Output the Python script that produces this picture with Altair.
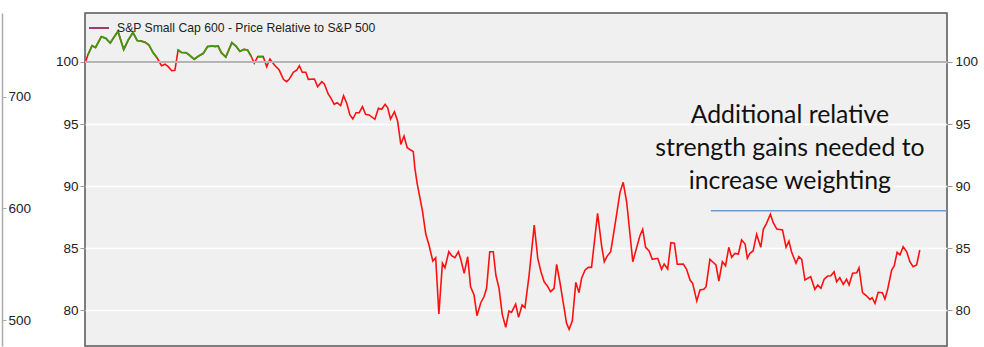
import altair as alt
import pandas as pd

# Week number (x) and S&P 600 / S&P 500 relative index (y)
weeks = [0, 0.9, 2.2, 3.3, 5.1, 6.5, 7.9, 9.1, 10.3, 12.1, 13.5, 15.0, 16.3, 17.6, 18.8, 20.0,
         21.2, 22.6, 23.9, 25.0, 26.0, 27.1, 28.1, 29.1, 30.1, 31.6, 32.6, 34.1, 35.4, 37.0, 38.3,
         39.8, 40.6, 41.6, 42.6, 44.0, 45.9, 47.2, 48.4, 49.7, 50.8, 51.9, 52.9, 54.0, 55.7, 56.8,
         57.8, 59.2, 60.7, 62.0, 63.0, 63.8, 65.1, 66.2, 67.0, 67.9, 69.0, 69.8, 71.7, 72.7, 74.0,
         74.8, 76.0, 76.9, 77.9, 78.8, 79.9, 80.8, 81.8, 82.8, 83.7, 84.7, 85.7, 86.7, 87.7, 88.8,
         90.6, 91.7, 92.7, 93.8, 94.6, 95.5, 96.7, 97.7, 98.7, 99.7, 100.7, 101.8, 102.6, 103.1,
         103.8, 104.7, 105.5, 106.5, 107.5, 108.7, 109.6, 110.6, 111.7, 112.5, 113.7, 114.6, 115.6,
         116.7, 117.5, 118.5, 119.6, 120.5, 121.6, 122.5, 123.7, 124.7, 125.5, 126.5, 127.6, 128.4,
         129.4, 130.4, 131.5, 132.5, 133.3, 134.6, 135.5, 136.6, 137.5, 138.8, 140.4, 141.5, 142.5,
         143.5, 144.5, 145.5, 146.6, 147.4, 148.4, 149.5, 150.5, 151.3, 152.3, 153.4, 154.4, 155.2,
         156.3, 157.3, 158.3, 160.2, 161.5, 162.3, 163.2, 164.3, 165.8, 167.2, 168.2, 169.3, 171.2,
         172.2, 173.4, 174.3, 175.2, 176.3, 177.3, 179.0, 180.2, 181.0, 182.1, 183.1, 184.2, 185.1,
         187.0, 188.0, 189.1, 189.9, 191.2, 192.2, 193.4, 194.1, 195.3, 196.3, 197.2, 198.1, 199.2,
         200.2, 201.2, 202.1, 203.1, 204.2, 205.2, 206.3, 207.0, 207.8, 208.8, 209.9, 211.2, 212.0,
         213.0, 214.2, 215.1, 216.2, 218.0, 219.1, 220.0, 220.8, 222.2, 223.1, 224.0, 225.0, 226.8,
         228.1, 229.0, 230.0, 231.0, 232.1, 233.1, 234.1, 234.9, 235.9, 237.0, 238.0, 238.8, 239.9,
         241.2, 241.9, 243.0, 244.3, 245.3, 246.0, 246.9, 247.9, 249.2, 250.0, 250.8, 252.1, 252.9,
         253.8, 254.7, 255.7, 256.8, 257.8, 258.8, 259.9, 260.9]

relative = [99.9, 100.56, 101.31, 101.17, 102.04, 101.91, 101.53, 102.02, 102.48, 101.01, 101.77,
            102.38, 101.73, 101.68, 101.59, 101.37, 100.78, 100.30, 99.70, 99.82, 99.62, 99.30,
            99.33, 100.97, 100.77, 100.75, 100.56, 100.22, 100.46, 100.70, 101.25, 101.29, 101.25,
            101.29, 100.75, 100.40, 101.56, 101.27, 100.86, 101.02, 100.97, 100.48, 99.9, 100.43,
            100.43, 99.62, 100.24, 99.76, 99.35, 98.60, 98.41, 98.60, 99.17, 99.35, 99.70, 99.17,
            99.17, 98.60, 98.63, 98.01, 98.41, 98.23, 97.42, 97.07, 96.59, 96.72, 96.48, 97.28,
            96.67, 95.73, 95.40, 95.91, 95.91, 96.40, 95.78, 95.73, 95.38, 96.27, 96.19, 96.59,
            96.31, 95.40, 95.99, 95.24, 93.36, 94.03, 93.09, 92.90, 92.77, 91.43, 90.22, 89.01,
            87.93, 86.13, 85.24, 83.95, 84.22, 79.68, 83.77, 83.41, 84.70, 84.38, 84.22, 84.70,
            84.03, 82.96, 84.30, 81.88, 81.21, 79.54, 80.59, 81.07, 81.75, 84.70, 84.70, 82.82,
            81.75, 79.65, 78.60, 79.92, 79.81, 80.48, 79.41, 80.40, 80.19, 82.82, 86.85, 84.17,
            83.09, 82.28, 81.94, 81.48, 81.75, 83.69, 82.28, 80.54, 78.93, 78.44, 79.14, 82.23,
            81.40, 82.56, 83.23, 83.44, 83.44, 87.80, 85.10, 83.90, 84.35, 84.70, 87.12, 89.49,
            90.30, 88.69, 83.90, 84.84, 85.97, 86.51, 85.06, 84.76, 84.09, 84.17, 83.28, 83.71,
            83.31, 85.43, 85.38, 83.69, 83.71, 83.28, 82.42, 82.15, 80.73, 81.61, 81.67, 81.88,
            84.09, 83.85, 83.63, 82.34, 83.90, 83.57, 85.06, 84.25, 84.57, 84.52, 85.65, 85.32,
            84.17, 84.57, 84.76, 86.10, 85.06, 86.51, 86.99, 87.72, 87.04, 86.53, 86.45, 85.06,
            85.56, 84.70, 83.77, 84.30, 84.09, 82.42, 82.69, 81.67, 82.02, 81.75, 82.48, 82.74,
            82.77, 83.09, 82.28, 82.60, 82.07, 82.48, 82.02, 82.96, 83.01, 83.41, 81.40, 81.13,
            80.86, 80.99, 80.54, 81.43, 81.40, 80.89, 81.61, 83.23, 83.55, 84.65, 84.44, 85.10,
            84.70, 83.90, 83.49, 83.63, 84.84]

series_name = "S&P Small Cap 600 - Price Relative to S&P 500"
left_ticks = [80, 85, 90, 95, 100]
outer_ticks = [500, 600, 700]
baseline_level = [100]
target_level = [88]
target_span = [195.6, 269.4]
note_text = "Additional relative\nstrength gains needed to\nincrease weighting"

df = pd.DataFrame({"week": weeks, "rel": relative})
df["above"] = df["rel"].where(df["rel"] >= 100)

SANS = "Liberation Sans, Arial, sans-serif"

xs = alt.Scale(domain=[0, 269.4], nice=False, zero=False)
ys = alt.Scale(domain=[77.1, 103.95], nice=False, zero=False)
X = alt.X("week:Q", scale=xs, axis=None)

axis_common = dict(labelFont=SANS, labelFontSize=13.5, labelColor="#222222",
                   tickColor="#999999", tickSize=5, domain=False, title=None)

red = alt.Chart(df).mark_line(color="#ff1010", strokeWidth=1.6).encode(
    x=X,
    y=alt.Y("rel:Q", scale=ys, axis=alt.Axis(orient="left", values=left_ticks, grid=True,
                                              gridColor="#ffffff", gridWidth=1.5,
                                              labelPadding=2, **axis_common)),
)

ref = alt.Chart(pd.DataFrame({"lvl": baseline_level})).mark_rule(
    color="#b4b4b4", strokeWidth=2).encode(y=alt.Y("lvl:Q", scale=ys, axis=None))

green = alt.Chart(df).mark_line(color="#3d9b12", strokeWidth=1.8).encode(
    x=X,
    y=alt.Y("above:Q", scale=ys, axis=alt.Axis(orient="right", values=left_ticks, grid=False,
                                                labelPadding=3, **axis_common)),
)

target = alt.Chart(pd.DataFrame({"t0": [target_span[0]], "t1": [target_span[1]],
                                 "lvl": target_level})).mark_rule(
    color="#6d9bd1", strokeWidth=1.5).encode(
    x=alt.X("t0:Q", scale=xs, axis=None), x2="t1:Q", y=alt.Y("lvl:Q", scale=ys, axis=None))

note = alt.Chart(pd.DataFrame({"week": [220.3], "rel": [95.1], "note": [note_text]})).mark_text(
    lineBreak="\n", lineHeight=33, align="center", baseline="alphabetic",
    font="Lato", fontSize=24.8, color="#111111").encode(
    x=X, y=alt.Y("rel:Q", scale=ys, axis=None), text="note:N")

legend_layer = alt.Chart(pd.DataFrame({"week": [0], "rel": [100], "series": [series_name]})).mark_line(
    strokeWidth=2).encode(
    x=X, y=alt.Y("rel:Q", scale=ys, axis=None),
    color=alt.Color("series:N", scale=alt.Scale(range=["#a23b72"]),
                    legend=alt.Legend(orient="none", legendX=3, legendY=4, title=None,
                                      symbolType="stroke", symbolSize=400, symbolStrokeWidth=2,
                                      labelFont=SANS, labelFontSize=12.2, labelColor="#222222",
                                      labelOffset=7, labelLimit=600, padding=0)),
)

outer = alt.Chart(pd.DataFrame({"idx": [600]})).mark_point(opacity=0).encode(
    y=alt.Y("idx:Q", scale=alt.Scale(domain=[476.7, 775.2], nice=False, zero=False),
            axis=alt.Axis(orient="right", offset=-945, values=outer_ticks, grid=False,
                          domain=True, domainColor="#aaaaaa", domainWidth=1.5,
                          tickColor="#aaaaaa", tickSize=4, labelPadding=2,
                          labelFont=SANS, labelFontSize=13.5, labelColor="#222222", title=None)),
)

chart = alt.layer(red, ref, green, target, note, legend_layer, outer).resolve_scale(
    y="independent"
).properties(
    width=862, height=333, autosize="none",
    padding={"left": 85, "top": 13, "right": 37, "bottom": 1},
    background="#ffffff",
).configure_view(fill="#f0f0f0", stroke="#555555", strokeWidth=1.5)

chart.save("out.html", embed_options={"renderer": "svg", "actions": False})
